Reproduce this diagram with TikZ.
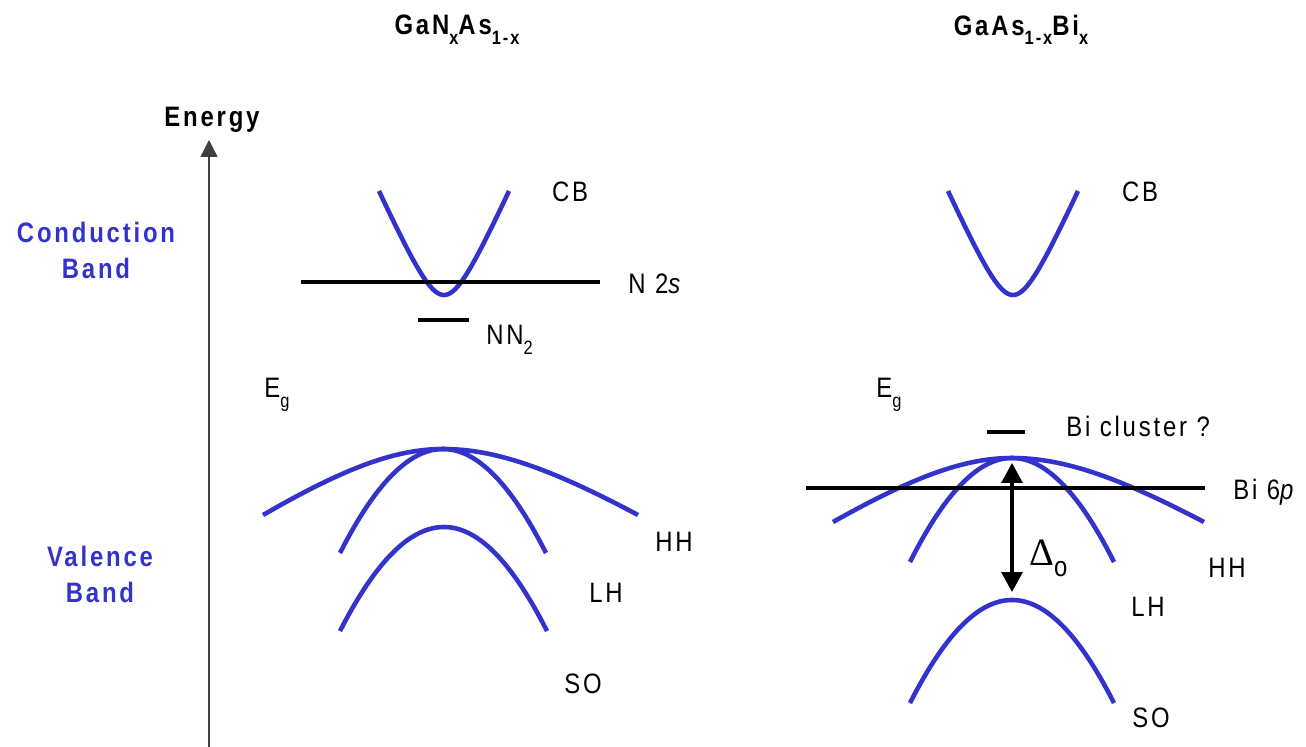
\documentclass[tikz,border=0pt]{standalone}
\usepackage{fontspec}
\setmainfont{Liberation Sans}[FakeStretch=0.85, LetterSpace=10]
\newfontfamily\deltafont{Liberation Serif}
\usepackage{tikz}
\usetikzlibrary{arrows.meta}

\definecolor{bandblue}{RGB}{51,51,204}

% lowered subscript
\newcommand{\lo}[1]{\raisebox{-5.5pt}{\fontsize{11}{11}\selectfont #1}}
% band curve: centre x, extremum y, left/right half width, drop, roundness
\newcommand{\bandcurve}[6]{%
  \draw[band] plot[domain=-#3:#4, samples=61]
    ({#1+\x},{#2+#5*(sqrt(1+(abs(\x)/(\x<0 ? #3 : #4)/#6)^2)-1)/(sqrt(1+1/#6^2)-1)});}

\begin{document}
\begin{tikzpicture}[
    x=0.02cm, y=-0.02cm,
    lbl/.style={inner sep=0pt, text depth=0pt, font=\fontsize{16}{20}\selectfont},
    title/.style={lbl, font=\fontsize{16}{20}\selectfont\bfseries},
    bandname/.style={lbl, align=center, text=bandblue, font=\fontsize{16}{20.5}\selectfont\bfseries},
    band/.style={draw=bandblue, line width=2.6pt, line join=round},
    level/.style={line width=2.2pt},
    axis/.style={-{Triangle[length=0.34cm, width=0.34cm]}, line width=0.8pt, draw=black!75},
    dbl/.style={{Triangle[length=0.4cm, width=0.42cm]}-{Triangle[length=0.4cm, width=0.42cm]}, line width=1.8pt}
]
\useasboundingbox (0,0) rectangle (1306,747);

% titles and axis
\node[title] (titleN) at (457,25) {GaN\lo{x}As\lo{1-x}};
\node[title] (titleBi) at (1021,25) {GaAs\lo{1-x}Bi\lo{x}};
\node[title] (energy) at (212,117) {Energy};
\coordinate (axisfoot) at (209,747);
\coordinate (axistip) at (209,140);
\draw[axis] (axisfoot) -- (axistip);
\node[bandname] (cband) at (96,250) {Conduction\\Band};
\node[bandname] (vband) at (100,574) {Valence\\Band};

% GaNAs bands
\bandcurve{444}{295}{65}{65}{-104}{0.35}
\bandcurve{443}{449}{180}{195}{66}{0.7}
\bandcurve{443}{449}{103}{103}{104}{3}
\bandcurve{444}{527}{104}{103}{104}{3}
\draw[level] (301,282) -- (600,282);
\draw[level] (418,320) -- (469,320);
\node[lbl] (cbN) at (570,192) {CB};
\node[lbl, anchor=west] (n2s) at (628,284) {N 2\textit{s}};
\node[lbl, anchor=west] (nn2) at (486,335) {NN\lo{2}};
\node[lbl, anchor=west] (egN) at (264,388) {E\lo{g}};
\node[lbl] (hhN) at (674,542) {HH};
\node[lbl] (lhN) at (606,593) {LH};
\node[lbl] (soN) at (583,684) {SO};

% GaAsBi bands
\bandcurve{1013}{295}{65}{65}{-104}{0.35}
\bandcurve{1012}{458}{179}{192}{64}{0.7}
\bandcurve{1012}{458}{102}{102}{104}{3}
\bandcurve{1012}{600}{102}{102}{103}{3}
\draw[level] (806,488) -- (1205,488);
\draw[level] (987,432) -- (1025,432);
\node[lbl] (cbBi) at (1140,192) {CB};
\node[lbl, anchor=west] (clusterBi) at (1066,426) {Bi cluster ?};
\node[lbl, anchor=west] (bi6p) at (1233,489) {Bi 6\textit{p}};
\node[lbl, anchor=west] (egBi) at (876,388) {E\lo{g}};
\node[lbl] (hhBi) at (1227,568) {HH};
\node[lbl] (lhBi) at (1148,607) {LH};
\node[lbl] (soBi) at (1151,718) {SO};

% spin-orbit splitting
\coordinate (vbmaxBi) at (1012,463);
\coordinate (somaxBi) at (1012,592);
\draw[dbl] (vbmaxBi) -- (somaxBi);
\node[lbl, anchor=west] (deltaSO) at (1029,553) {{\deltafont\fontsize{22}{22}\selectfont Δ}\raisebox{-6pt}{o}};

\end{tikzpicture}
\end{document}
